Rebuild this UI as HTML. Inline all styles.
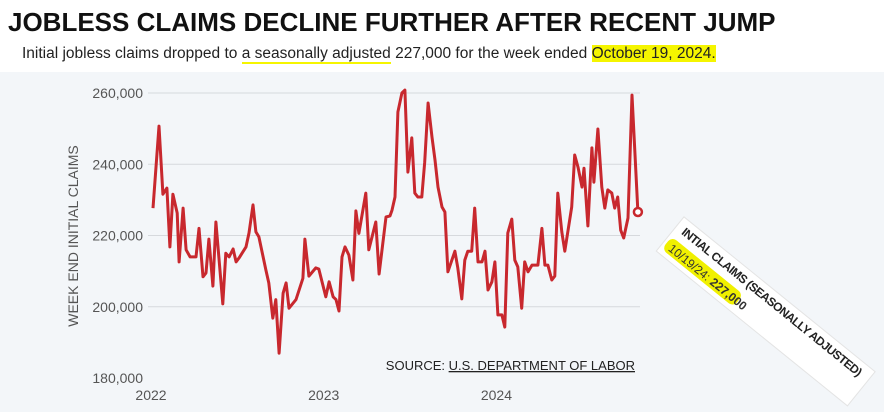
<!DOCTYPE html>
<html><head><meta charset="utf-8">
<style>
body{margin:0;width:884px;height:412px;overflow:hidden;background:#f3f6f9;font-family:"Liberation Sans",sans-serif;position:relative}
#hdr{position:absolute;left:0;top:0;width:884px;height:72px;background:#fff}
#title{position:absolute;left:8px;top:7px;font-size:26px;font-weight:bold;color:#111;letter-spacing:0px;white-space:nowrap}
#sub{position:absolute;left:22px;top:45px;font-size:15.5px;color:#222;white-space:nowrap}
.hl{background:#f5f500}
svg{position:absolute;left:0;top:0}
</style></head><body>
<div id="hdr"></div>
<div id="title">JOBLESS CLAIMS DECLINE FURTHER AFTER RECENT JUMP</div>
<div id="sub">Initial jobless claims dropped to <span style="border-bottom:2px solid #f5f500">a seasonally adjusted</span> 227,000 for the week ended <span class="hl">October 19, 2024.</span></div>
<svg id="chart" width="884" height="412"></svg>
<script>
const weeks=[0.3,2.1,3.3,4.5,5.4,6.3,7.6,8.2,9.4,10.3,11.5,13.3,14.2,15.4,16.3,17.2,18.4,19.3,21.4,22.3,23.3,24.5,25.4,26.3,28.4,29.3,30.5,31.4,32.3,34.4,35.3,36.5,37.4,38.4,39.6,40.5,41.4,43.5,45.6,46.2,47.4,49.5,50.4,52.5,53.5,54.7,55.6,56.5,57.4,58.3,59.5,60.7,61.6,62.5,64.6,65.5,67.6,68.6,70.7,71.9,72.5,73.4,74.3,75.5,76.4,77.3,78.5,79.4,80.3,81.5,82.4,83.4,84.6,85.5,86.4,87.6,88.5,89.4,91.5,92.4,93.6,94.5,95.4,96.6,97.5,98.5,99.7,100.6,101.5,102.7,103.6,104.5,105.7,106.6,107.5,108.7,109.6,110.5,111.7,112.6,113.6,114.8,116.6,117.8,118.7,119.6,120.8,121.7,122.6,123.8,124.7,126.8,127.7,128.7,129.9,130.5,131.7,132.9,133.5,134.7,135.9,136.8,137.7,138.9,139.8,140.7,141.6,142.5,143.8,145,146.8];
const claims=[227.7,250.7,231.6,233.3,216.8,231.6,226.3,212.6,227.7,216,214,214,222,208.4,209.5,219,205.8,223.8,200.8,215,214,216.2,212.6,213.7,216.8,220.7,228.6,221,219.6,210.3,206.7,196.8,202,187,203.8,206.7,199.6,202,208,219,208.6,210.9,210.6,202.8,207,202.8,202,198.8,214,216.8,214.5,207.5,226.9,220.6,231.9,216,223.8,209.2,225.2,225.5,227.1,230.8,254.7,260,260.8,237.8,247.4,231.9,230.8,230.8,240.6,257.2,247.6,241.2,233.6,228,226.6,209.8,215.6,210.9,202.2,213.1,215.6,215.6,227.7,212.6,212.6,215.6,204.7,207,212.6,197.7,197.7,194.3,220.7,224.6,213.1,211.2,199.6,212.6,209.8,211.7,211.7,222,211.7,211.7,207.5,208.6,231.9,221,215.6,228,242.6,239.2,233.6,238.9,222.7,244.6,235,249.9,233.6,227.7,232.8,231.9,227.7,230.8,221.5,219.3,224.9,259.4,226.6];
const yTicks=[260,240,220,200,180];
const yTickLabels=["260,000","240,000","220,000","200,000","180,000"];
const xTicks=[0,52.18,104.36];
const xTickLabels=["2022","2023","2024"];
const NS="http://www.w3.org/2000/svg";
const svg=document.getElementById('chart');
const x=w=>152+w*3.31;
const y=v=>93+(260-v)*3.5625;
function mk(t,a,p){const e=document.createElementNS(NS,t);for(const k in a)e.setAttribute(k,a[k]);(p||svg).appendChild(e);return e;}
yTicks.forEach((v,i)=>{
 if(v>180){const g=mk('line',{x1:148,x2:640,y1:y(v),y2:y(v),stroke:'#d6d9dd','stroke-width':1});
 
 }
 const t=mk('text',{x:143,y:y(v)+5,'text-anchor':'end','font-size':14,fill:'#555','font-family':'Liberation Sans'});
 t.textContent=yTickLabels[i];
 
 
});
xTicks.forEach((w,i)=>{
 const t=mk('text',{x:x(w)-1,y:400,'text-anchor':'middle','font-size':14,fill:'#555','font-family':'Liberation Sans'});
 t.textContent=xTickLabels[i];
 
 
});
const yt=mk('text',{x:0,y:0,transform:'translate(78,236) rotate(-90)','text-anchor':'middle','font-size':14,fill:'#555','font-family':'Liberation Sans'});
yt.textContent='WEEK END INITIAL CLAIMS';


const pts=weeks.map((w,i)=>x(w).toFixed(1)+','+y(claims[i]).toFixed(1)).join(' ');
const ln=mk('polyline',{points:pts,fill:'none',stroke:'#c8282e','stroke-width':3,'stroke-linejoin':'round'});


const n=weeks.length-1;
const c=mk('circle',{cx:x(weeks[n]),cy:y(claims[n]),r:4,fill:'#fff',stroke:'#c8282e','stroke-width':2.5});


const s=mk('text',{x:635,y:370,'text-anchor':'end','font-size':13,fill:'#222','font-family':'Liberation Sans'});
s.innerHTML='SOURCE: <tspan text-decoration="underline">U.S. DEPARTMENT OF LABOR</tspan>';


const g=mk('g',{transform:'translate(682,232) rotate(39)'});


mk('rect',{x:-8,y:-13,width:246,height:44,fill:'#fff',stroke:'#e4e4e4'},g);
mk('rect',{x:-5,y:10,width:92,height:16,fill:'#f0f000',rx:6},g);
const a1=mk('text',{x:0,y:2,'font-size':12,'font-weight':'bold',fill:'#222','font-family':'Liberation Sans',textLength:228},g);
a1.textContent='INTIAL CLAIMS (SEASONALLY ADJUSTED)';
const a2=mk('text',{x:0,y:23,'font-size':12,fill:'#333','font-family':'Liberation Sans'},g);
a2.innerHTML='10/19/24: <tspan font-weight="bold">227,000</tspan>';
</script>
</body></html>
